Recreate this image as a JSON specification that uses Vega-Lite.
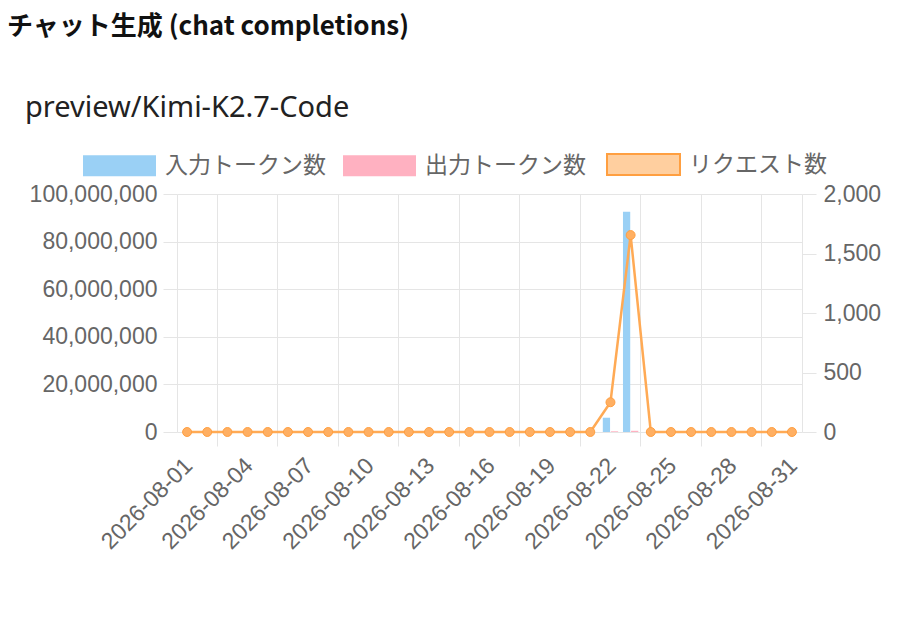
{
  "$schema": "https://vega.github.io/schema/vega-lite/v6.json",
  "background": "white",
  "padding": {"left": 7, "top": 14, "right": 10, "bottom": 10},
  "title": {"text": "チャット生成 (chat completions)", "anchor": "start", "frame": "group", "dx": -170, "offset": 54, "font": "Noto Sans CJK JP", "fontSize": 26, "fontWeight": "bold", "color": "#111111"},
  "config": {"view": {"stroke": null}},
  "vconcat": [
    {
      "width": 625,
      "height": 238,
      "title": {"text": "preview/Kimi-K2.7-Code", "anchor": "start", "frame": "group", "dx": -152, "offset": 60, "font": "Noto Sans", "fontSize": 29, "fontWeight": "normal", "color": "#222222"},
      "data": {"values": [
        {"date": "2026-08-01", "入力トークン数": 0, "出力トークン数": 0, "リクエスト数": 0},
        {"date": "2026-08-02", "入力トークン数": 0, "出力トークン数": 0, "リクエスト数": 0},
        {"date": "2026-08-03", "入力トークン数": 0, "出力トークン数": 0, "リクエスト数": 0},
        {"date": "2026-08-04", "入力トークン数": 0, "出力トークン数": 0, "リクエスト数": 0},
        {"date": "2026-08-05", "入力トークン数": 0, "出力トークン数": 0, "リクエスト数": 0},
        {"date": "2026-08-06", "入力トークン数": 0, "出力トークン数": 0, "リクエスト数": 0},
        {"date": "2026-08-07", "入力トークン数": 0, "出力トークン数": 0, "リクエスト数": 0},
        {"date": "2026-08-08", "入力トークン数": 0, "出力トークン数": 0, "リクエスト数": 0},
        {"date": "2026-08-09", "入力トークン数": 0, "出力トークン数": 0, "リクエスト数": 0},
        {"date": "2026-08-10", "入力トークン数": 0, "出力トークン数": 0, "リクエスト数": 0},
        {"date": "2026-08-11", "入力トークン数": 0, "出力トークン数": 0, "リクエスト数": 0},
        {"date": "2026-08-12", "入力トークン数": 0, "出力トークン数": 0, "リクエスト数": 0},
        {"date": "2026-08-13", "入力トークン数": 0, "出力トークン数": 0, "リクエスト数": 0},
        {"date": "2026-08-14", "入力トークン数": 0, "出力トークン数": 0, "リクエスト数": 0},
        {"date": "2026-08-15", "入力トークン数": 0, "出力トークン数": 0, "リクエスト数": 0},
        {"date": "2026-08-16", "入力トークン数": 0, "出力トークン数": 0, "リクエスト数": 0},
        {"date": "2026-08-17", "入力トークン数": 0, "出力トークン数": 0, "リクエスト数": 0},
        {"date": "2026-08-18", "入力トークン数": 0, "出力トークン数": 0, "リクエスト数": 0},
        {"date": "2026-08-19", "入力トークン数": 0, "出力トークン数": 0, "リクエスト数": 0},
        {"date": "2026-08-20", "入力トークン数": 0, "出力トークン数": 0, "リクエスト数": 0},
        {"date": "2026-08-21", "入力トークン数": 0, "出力トークン数": 0, "リクエスト数": 0},
        {"date": "2026-08-22", "入力トークン数": 6000000, "出力トークン数": 300000, "リクエスト数": 250},
        {"date": "2026-08-23", "入力トークン数": 92500000, "出力トークン数": 500000, "リクエスト数": 1655},
        {"date": "2026-08-24", "入力トークン数": 0, "出力トークン数": 0, "リクエスト数": 0},
        {"date": "2026-08-25", "入力トークン数": 0, "出力トークン数": 0, "リクエスト数": 0},
        {"date": "2026-08-26", "入力トークン数": 0, "出力トークン数": 0, "リクエスト数": 0},
        {"date": "2026-08-27", "入力トークン数": 0, "出力トークン数": 0, "リクエスト数": 0},
        {"date": "2026-08-28", "入力トークン数": 0, "出力トークン数": 0, "リクエスト数": 0},
        {"date": "2026-08-29", "入力トークン数": 0, "出力トークン数": 0, "リクエスト数": 0},
        {"date": "2026-08-30", "入力トークン数": 0, "出力トークン数": 0, "リクエスト数": 0},
        {"date": "2026-08-31", "入力トークン数": 0, "出力トークン数": 0, "リクエスト数": 0}
      ]},
      "layer": [
        {
          "transform": [{"fold": ["入力トークン数", "出力トークン数"], "as": ["series", "tokens"]}],
          "mark": {"type": "bar"},
          "encoding": {
            "x": {"field": "date", "type": "nominal", "scale": {"paddingInner": 0, "paddingOuter": 0},
              "axis": {"values": ["2026-08-01", "2026-08-04", "2026-08-07", "2026-08-10", "2026-08-13", "2026-08-16", "2026-08-19", "2026-08-22", "2026-08-25", "2026-08-28", "2026-08-31"],
                "title": null, "grid": false, "ticks": false, "domain": false, "labelAngle": -45, "labelAlign": "right", "labelBaseline": "top", "labelPadding": 22, "labelOffset": -6, "labelFont": "Liberation Sans", "labelFontSize": 23, "labelColor": "#666666", "labelOverlap": false}},
            "xOffset": {"field": "series", "type": "nominal", "scale": {"domain": ["入力トークン数", "出力トークン数"], "paddingInner": 0.1, "paddingOuter": 0.3}},
            "y": {"field": "tokens", "type": "quantitative", "scale": {"domain": [0, 100000000], "nice": false},
              "axis": {"orient": "left", "values": [0, 20000000, 40000000, 60000000, 80000000, 100000000], "format": ",d", "title": null, "grid": true, "gridColor": "#e5e5e5", "tickSize": 14, "tickColor": "#e5e5e5", "domainColor": "#e5e5e5", "labelPadding": 6, "labelFont": "Liberation Sans", "labelFontSize": 23, "labelColor": "#666666"}},
            "color": {"field": "series", "type": "nominal",
              "scale": {"domain": ["入力トークン数", "出力トークン数", "リクエスト数"], "range": ["#9AD0F5", "#FFB1C1", "#FFCF9F"]},
              "legend": {"orient": "none", "legendX": -69, "legendY": -41, "direction": "horizontal", "title": null,
                "symbolType": "M-3.476,-1H3.476V1H-3.476Z", "symbolSize": 441, "symbolStrokeWidth": 0, "symbolOpacity": 1,
                "labelOffset": 34, "labelLimit": 400, "columnPadding": 17, "labelFont": "Noto Sans CJK JP", "labelFontSize": 23, "labelColor": "#666666",
                "encode": {"symbols": {"update": {"stroke": {"signal": "datum.value === 'リクエスト数' ? '#FF9F40' : 'transparent'"}, "strokeWidth": {"signal": "datum.value === 'リクエスト数' ? 2 : 0"}}}}}}
          }
        },
        {
          "mark": {"type": "line", "color": "#FFAA55", "strokeWidth": 2.5, "point": {"filled": true, "size": 80, "color": "#FFAF62", "stroke": "#FF9F40", "strokeWidth": 1}},
          "encoding": {
            "x": {"field": "date", "type": "nominal",
              "axis": {"orient": "bottom", "values": ["2026-08-03", "2026-08-06", "2026-08-09", "2026-08-12", "2026-08-15", "2026-08-18", "2026-08-21", "2026-08-24", "2026-08-27", "2026-08-30"],
                "bandPosition": 0, "title": null, "labels": false, "domain": false, "grid": true, "gridColor": "#e5e5e5", "ticks": true, "tickSize": 14, "tickColor": "#e5e5e5"}},
            "y": {"field": "リクエスト数", "type": "quantitative", "scale": {"domain": [0, 2000], "nice": false},
              "axis": {"orient": "right", "values": [0, 500, 1000, 1500, 2000], "format": ",d", "title": null, "grid": false, "tickSize": 14, "tickColor": "#e5e5e5", "domainColor": "#e5e5e5", "labelPadding": 7, "labelFont": "Liberation Sans", "labelFontSize": 23, "labelColor": "#666666"}}
          }
        }
      ],
      "resolve": {"scale": {"y": "independent"}, "axis": {"x": "independent"}}
    }
  ]
}
